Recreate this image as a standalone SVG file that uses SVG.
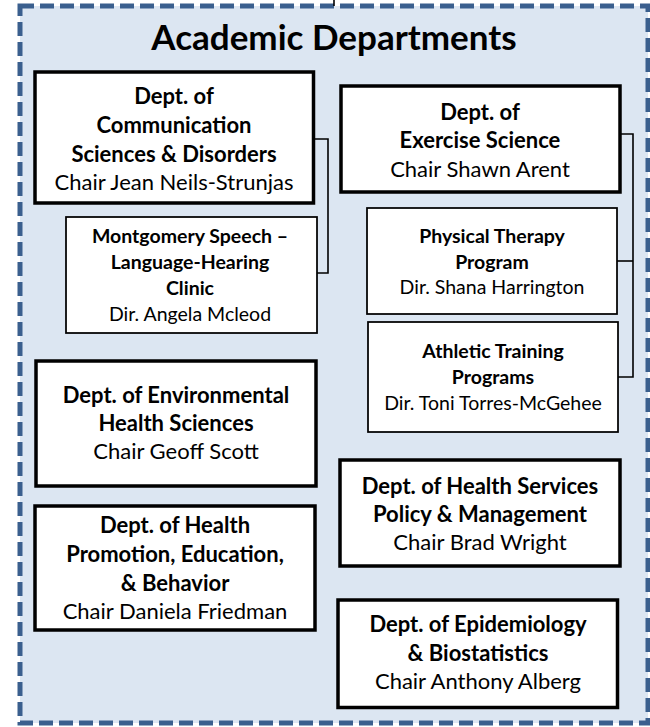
<svg xmlns="http://www.w3.org/2000/svg" width="650" height="727" viewBox="0 0 650 727">
<style>
.frame{fill:#dce6f2;stroke:#3a5f8e;stroke-width:5;stroke-dasharray:14 6}
.main{fill:#fff;stroke:#000;stroke-width:3.5}
.sub{fill:#fff;stroke:#000;stroke-width:1.75}
.conn{fill:none;stroke:#000;stroke-width:1.6}
text{font-family:Lato,"Liberation Sans",sans-serif;fill:#000;text-anchor:middle}
.t{font-size:35px;font-weight:bold}
.b{font-size:22px;font-weight:bold}
.r{font-size:22px}
.sb{font-size:19.5px;font-weight:bold}
.sr{font-size:19.5px}
</style>
<rect class="frame" x="20" y="6" width="628" height="717"/>
<text class="t" x="334" y="50">Academic Departments</text>
<g id="connectors">
<line class="conn" x1="334" y1="0" x2="334" y2="6"/>
<polyline class="conn" points="313,139 328,139 328,273 317,273"/>
<polyline class="conn" points="620,134 633,134 633,377 618,377"/>
<line class="conn" x1="633" y1="261" x2="617" y2="261"/>
</g>
<g id="comm">
<rect class="main" x="35" y="72" width="278.5" height="131"/>
<text class="b" x="174" y="104">Dept. of</text>
<text class="b" x="174" y="133">Communication</text>
<text class="b" x="174" y="162">Sciences &amp; Disorders</text>
<text class="r" x="174" y="190">Chair Jean Neils-Strunjas</text>
</g>
<g id="clinic">
<rect class="sub" x="66" y="217" width="251" height="116"/>
<text class="sb" x="190" y="243">Montgomery Speech –</text>
<text class="sb" x="190" y="269">Language-Hearing</text>
<text class="sb" x="190" y="295">Clinic</text>
<text class="sr" x="190" y="321">Dir. Angela Mcleod</text>
</g>
<g id="exercise">
<rect class="main" x="341" y="86" width="279" height="106"/>
<text class="b" x="480" y="120">Dept. of</text>
<text class="b" x="480" y="148">Exercise Science</text>
<text class="r" x="480" y="177">Chair Shawn Arent</text>
</g>
<g id="pt">
<rect class="sub" x="367" y="208" width="250" height="106"/>
<text class="sb" x="492" y="243">Physical Therapy</text>
<text class="sb" x="492" y="269">Program</text>
<text class="sr" x="492" y="294">Dir. Shana Harrington</text>
</g>
<g id="at">
<rect class="sub" x="368" y="322" width="250" height="110"/>
<text class="sb" x="493" y="358">Athletic Training</text>
<text class="sb" x="493" y="384">Programs</text>
<text class="sr" x="493" y="410">Dir. Toni Torres-McGehee</text>
</g>
<g id="env">
<rect class="main" x="36" y="361" width="280" height="125"/>
<text class="b" x="176" y="403">Dept. of Environmental</text>
<text class="b" x="176" y="431">Health Sciences</text>
<text class="r" x="176" y="459">Chair Geoff Scott</text>
</g>
<g id="hpeb">
<rect class="main" x="35" y="506" width="280" height="124"/>
<text class="b" x="175" y="533">Dept. of Health</text>
<text class="b" x="175" y="562">Promotion, Education,</text>
<text class="b" x="175" y="591">&amp; Behavior</text>
<text class="r" x="175" y="619">Chair Daniela Friedman</text>
</g>
<g id="hspm">
<rect class="main" x="340" y="460" width="280" height="106"/>
<text class="b" x="480" y="494">Dept. of Health Services</text>
<text class="b" x="480" y="522">Policy &amp; Management</text>
<text class="r" x="480" y="550">Chair Brad Wright</text>
</g>
<g id="epi">
<rect class="main" x="338" y="600" width="279.5" height="107.5"/>
<text class="b" x="478" y="632">Dept. of Epidemiology</text>
<text class="b" x="478" y="661">&amp; Biostatistics</text>
<text class="r" x="478" y="689">Chair Anthony Alberg</text>
</g>
</svg>
